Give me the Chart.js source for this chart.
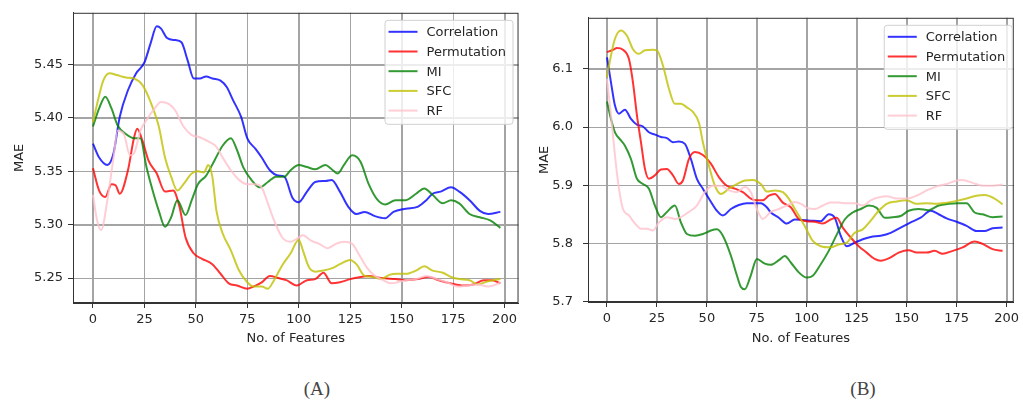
<!DOCTYPE html>
<html>
<head>
<meta charset="utf-8">
<script src="https://cdn.jsdelivr.net/npm/chart.js@4.4.1/dist/chart.umd.min.js"></script>
<style>
    body { margin: 0; background: #fff; width: 1023px; height: 403px; overflow: hidden; position: relative; }
    canvas { position: absolute; top: 0; }
    #chartA { left: 0; }
    #chartB { left: 521px; }
    .caption { position: absolute; top: 378px; width: 60px; text-align: center;
        font-family: "Liberation Serif", "DejaVu Serif", serif; font-size: 19px; color: #444; }
</style>
</head>
<body>
<canvas id="chartA" width="521" height="360"></canvas>
<canvas id="chartB" width="502" height="360"></canvas>
<div class="caption" style="left: 287px;">(A)</div>
<div class="caption" style="left: 833px;">(B)</div>
<script>
// --- Data ---
const methods = ['Correlation', 'Permutation', 'MI', 'SFC', 'RF'];
const colours = ['rgba(0,0,255,0.8)', 'rgba(255,0,0,0.8)', 'rgba(0,128,0,0.8)', 'rgba(191,191,0,0.8)', 'rgba(255,192,203,0.8)'];

const featureTicks = [0, 25, 50, 75, 100, 125, 150, 175, 200];
const maeTicksA = [5.25, 5.30, 5.35, 5.40, 5.45];
const maeTicksB = [5.7, 5.8, 5.9, 6.0, 6.1];

// (A) [no. of features, MAE]
const corrA = [[0,5.376],[3,5.363],[7,5.356],[10,5.367],[13,5.401],[17,5.426],[21,5.442],[25,5.452],[28,5.47],[31,5.486],[33,5.484],[36,5.475],[40,5.473],[43,5.471],[46,5.454],[49,5.437],[52,5.437],[55,5.439],[58,5.437],[62,5.435],[65,5.429],[68,5.417],[72,5.401],[75,5.381],[79,5.371],[82,5.363],[86,5.351],[90,5.346],[93,5.345],[97,5.325],[100,5.321],[104,5.331],[108,5.34],[113,5.341],[116,5.342],[120,5.331],[124,5.317],[128,5.31],[132,5.312],[137,5.308],[142,5.306],[146,5.312],[152,5.315],[158,5.317],[162,5.323],[165,5.329],[169,5.331],[174,5.335],[178,5.331],[183,5.323],[188,5.313],[192,5.31],[198,5.312]];
const permA = [[0,5.353],[3,5.332],[6,5.326],[9,5.338],[11,5.337],[13,5.329],[17,5.351],[20,5.382],[21.5,5.39],[24,5.379],[27,5.36],[31,5.348],[35,5.331],[39,5.332],[42,5.317],[45,5.288],[49,5.273],[53,5.268],[58,5.263],[62,5.254],[66,5.245],[70,5.243],[75,5.24],[78,5.242],[82,5.246],[86,5.252],[90,5.25],[94,5.248],[99,5.243],[104,5.248],[108,5.249],[112,5.255],[116,5.245],[120,5.246],[125,5.249],[130,5.251],[134,5.252],[140,5.25],[147,5.249],[152,5.248],[158,5.249],[163,5.251],[168,5.248],[174,5.245],[180,5.243],[185,5.244],[190,5.248],[194,5.248],[198,5.245]];
const miA = [[0,5.392],[3,5.409],[6,5.42],[9,5.409],[12,5.393],[16,5.385],[20,5.381],[23,5.381],[26,5.354],[29,5.332],[32,5.313],[35,5.298],[38,5.307],[41,5.323],[45,5.309],[48,5.323],[51,5.338],[55,5.346],[59,5.36],[63,5.374],[67,5.381],[70,5.37],[73,5.354],[77,5.342],[81,5.335],[85,5.34],[89,5.345],[93,5.345],[96,5.351],[100,5.356],[104,5.354],[108,5.352],[113,5.356],[116,5.352],[119,5.348],[122,5.356],[126,5.365],[130,5.359],[134,5.338],[138,5.324],[142,5.319],[147,5.323],[152,5.323],[157,5.329],[161,5.334],[165,5.328],[170,5.32],[174,5.323],[178,5.32],[183,5.31],[188,5.307],[193,5.304],[198,5.297]];
const sfcA = [[0,5.396],[2,5.413],[5,5.435],[8,5.442],[12,5.44],[16,5.438],[20,5.437],[24,5.431],[28,5.415],[32,5.392],[35,5.363],[38,5.345],[41,5.332],[44,5.338],[48,5.348],[51,5.35],[54,5.349],[56,5.356],[58,5.345],[60,5.313],[63,5.292],[67,5.276],[71,5.257],[75,5.246],[78,5.242],[82,5.242],[85,5.24],[88,5.248],[92,5.262],[96,5.273],[100,5.286],[102,5.276],[105,5.26],[108,5.256],[112,5.257],[116,5.259],[120,5.263],[125,5.267],[128,5.263],[132,5.252],[136,5.251],[140,5.249],[144,5.253],[148,5.254],[152,5.254],[157,5.257],[161,5.261],[165,5.257],[170,5.255],[174,5.251],[178,5.249],[183,5.248],[187,5.244],[192,5.247],[198,5.249]];
const rfA = [[0,5.328],[2,5.304],[4,5.295],[7,5.323],[10,5.363],[12,5.388],[15,5.385],[18,5.365],[20,5.367],[23,5.388],[26,5.398],[30,5.409],[33,5.415],[37,5.413],[40,5.407],[44,5.392],[48,5.384],[52,5.382],[56,5.378],[60,5.373],[63,5.363],[67,5.351],[71,5.342],[75,5.338],[79,5.338],[82,5.335],[85,5.32],[88,5.304],[92,5.288],[96,5.284],[100,5.288],[102,5.29],[106,5.285],[110,5.282],[114,5.278],[118,5.282],[122,5.284],[126,5.282],[129,5.273],[133,5.26],[137,5.252],[141,5.248],[145,5.245],[148,5.246],[152,5.248],[157,5.249],[162,5.252],[167,5.249],[172,5.246],[177,5.242],[182,5.243],[187,5.244],[192,5.242],[196,5.244],[198,5.246]];

// (B)
const corrB = [[0,6.12],[2,6.077],[4,6.037],[6,6.023],[9,6.03],[12,6.014],[15,6.004],[18,6.001],[21,5.991],[24,5.987],[27,5.983],[30,5.981],[33,5.974],[36,5.975],[39,5.971],[42,5.945],[45,5.911],[48,5.894],[51,5.877],[55,5.856],[58,5.848],[62,5.859],[66,5.866],[70,5.869],[74,5.869],[77,5.869],[80,5.862],[82,5.853],[86,5.844],[90,5.834],[94,5.841],[98,5.84],[102,5.839],[107,5.838],[111,5.85],[114,5.844],[117,5.813],[120,5.795],[124,5.801],[128,5.807],[132,5.811],[137,5.813],[142,5.818],[147,5.827],[152,5.836],[157,5.844],[162,5.856],[166,5.85],[170,5.843],[175,5.837],[180,5.83],[185,5.821],[189,5.821],[193,5.826],[198,5.827]];
const permB = [[0,6.129],[3,6.133],[5,6.136],[8,6.133],[11,6.117],[13,6.077],[15,6.02],[17,5.974],[19,5.928],[21,5.911],[24,5.917],[27,5.927],[30,5.928],[33,5.917],[36,5.902],[38,5.908],[41,5.945],[44,5.957],[48,5.952],[52,5.937],[56,5.914],[60,5.899],[64,5.894],[68,5.888],[72,5.877],[75,5.874],[78,5.874],[81,5.882],[84,5.885],[88,5.87],[92,5.862],[96,5.842],[100,5.838],[104,5.837],[108,5.834],[112,5.841],[115,5.844],[118,5.827],[122,5.81],[126,5.795],[130,5.784],[134,5.773],[137,5.77],[141,5.774],[146,5.784],[151,5.788],[155,5.784],[160,5.784],[164,5.787],[168,5.782],[173,5.787],[178,5.793],[184,5.803],[188,5.799],[193,5.79],[198,5.787]];
const miB = [[0,6.044],[2,6.014],[4,5.991],[7,5.977],[9,5.968],[12,5.945],[15,5.911],[18,5.902],[21,5.894],[24,5.865],[27,5.845],[30,5.854],[34,5.865],[37,5.836],[40,5.816],[44,5.813],[48,5.816],[52,5.822],[55,5.824],[58,5.813],[62,5.779],[65,5.745],[67,5.725],[69,5.721],[72,5.745],[75,5.773],[79,5.765],[82,5.763],[86,5.771],[89,5.778],[92,5.767],[96,5.75],[100,5.741],[103,5.744],[107,5.764],[111,5.787],[115,5.815],[119,5.841],[123,5.853],[127,5.859],[131,5.865],[135,5.861],[139,5.844],[143,5.845],[147,5.847],[151,5.856],[156,5.859],[161,5.857],[166,5.865],[171,5.868],[176,5.869],[180,5.869],[184,5.853],[188,5.85],[193,5.845],[198,5.846]];
const sfcB = [[0,6.086],[2,6.123],[4,6.152],[7,6.166],[10,6.157],[13,6.134],[16,6.126],[19,6.132],[23,6.133],[25,6.132],[28,6.106],[31,6.066],[34,6.04],[37,6.04],[40,6.034],[43,6.026],[46,6.008],[48,5.974],[51,5.934],[54,5.899],[57,5.885],[61,5.894],[65,5.902],[69,5.908],[73,5.909],[77,5.902],[80,5.889],[84,5.891],[88,5.888],[91,5.877],[94,5.859],[96,5.848],[100,5.823],[103,5.804],[107,5.795],[112,5.793],[116,5.798],[120,5.801],[124,5.818],[128,5.824],[132,5.839],[136,5.856],[140,5.868],[145,5.872],[150,5.874],[155,5.868],[160,5.869],[165,5.868],[170,5.87],[175,5.873],[180,5.877],[185,5.882],[189,5.883],[194,5.877],[198,5.867]];
const rfB = [[0,6.083],[2,6.02],[4,5.951],[6,5.894],[8,5.859],[11,5.848],[14,5.834],[17,5.825],[20,5.825],[23,5.822],[26,5.836],[30,5.845],[34,5.842],[37,5.845],[41,5.854],[45,5.865],[49,5.888],[53,5.899],[57,5.899],[61,5.891],[65,5.888],[69,5.897],[72,5.888],[75,5.859],[78,5.842],[82,5.854],[86,5.859],[90,5.865],[94,5.871],[98,5.866],[100,5.861],[104,5.859],[108,5.865],[112,5.87],[116,5.87],[120,5.869],[124,5.869],[128,5.865],[132,5.874],[136,5.879],[140,5.881],[145,5.877],[150,5.877],[155,5.882],[160,5.891],[165,5.898],[170,5.902],[175,5.908],[178,5.909],[183,5.904],[188,5.899],[193,5.899],[198,5.901]];

// --- Plugins ---

// Grid lines at every tick (drawn under the series)
const gridPlugin = {
    id: 'tickGrid',
    beforeDatasetsDraw(chart) {
        const { ctx, chartArea: a, scales } = chart;
        ctx.save();
        ctx.strokeStyle = '#a4a4a4';
        ctx.lineWidth = 1;
        ctx.beginPath();
        scales.x.ticks.forEach(t => {
            const px = Math.round(scales.x.getPixelForValue(t.value)) + 0.5;
            ctx.moveTo(px, a.top);
            ctx.lineTo(px, a.bottom);
        });
        scales.y.ticks.forEach(t => {
            const py = Math.round(scales.y.getPixelForValue(t.value)) + 0.5;
            ctx.moveTo(a.left, py);
            ctx.lineTo(a.right, py);
        });
        ctx.stroke();
        ctx.restore();
    }
};

// Box around the plot area (matplotlib spines)
const framePlugin = {
    id: 'frame',
    afterDatasetsDraw(chart) {
        const { ctx, chartArea: a } = chart;
        ctx.save();
        ctx.strokeStyle = '#333';
        ctx.lineWidth = 1;
        ctx.strokeRect(a.left + 0.5, a.top + 0.5, a.right - a.left - 1, a.bottom - a.top - 1);
        ctx.restore();
    }
};

// Legend drawn inside the upper right corner of the plot
const boxLegendPlugin = {
    id: 'boxLegend',
    afterDraw(chart, args, opts) {
        const { ctx, chartArea: a } = chart;
        const w = 128, h = 104;
        const x = a.right - opts.right - w, y = a.top + opts.top;
        ctx.save();
        ctx.beginPath();
        ctx.roundRect(x + 0.5, y + 0.5, w, h, 3);
        ctx.fillStyle = 'rgba(255,255,255,0.8)';
        ctx.fill();
        ctx.strokeStyle = '#d0d0d0';
        ctx.lineWidth = 1;
        ctx.stroke();
        ctx.font = '13px "DejaVu Sans"';
        ctx.textBaseline = 'middle';
        chart.data.datasets.forEach((ds, i) => {
            const cy = y + 12 + i * 19.7;
            ctx.strokeStyle = ds.borderColor;
            ctx.lineWidth = 2;
            ctx.beginPath();
            ctx.moveTo(x + 4, cy);
            ctx.lineTo(x + 33, cy);
            ctx.stroke();
            ctx.fillStyle = '#262626';
            ctx.fillText(ds.label, x + 42, cy + 1);
        });
        ctx.restore();
    }
};

// --- Chart setup ---
const tickFont = { family: 'DejaVu Sans', size: 13 };
const gridStyle = { color: '#a4a4a4', lineWidth: 1, drawOnChartArea: true, tickColor: '#333', tickLength: 5 };

function makeChart(id, series, cfg) {
    const datasets = series.map((pts, i) => ({
        label: methods[i],
        data: pts.map(p => ({ x: p[0], y: p[1] })),
        borderColor: colours[i],
        borderWidth: 2,
        pointRadius: 0,
        fill: false,
        cubicInterpolationMode: 'monotone',
        order: series.length - i
    }));

    return new Chart(document.getElementById(id), {
        type: 'line',
        data: { datasets },
        plugins: [gridPlugin, framePlugin, boxLegendPlugin],
        options: {
            responsive: false,
            animation: false,
            layout: { padding: { top: cfg.top, right: cfg.right, left: 0, bottom: 0 } },
            scales: {
                x: {
                    type: 'linear',
                    min: cfg.xMin,
                    max: cfg.xMax,
                    afterBuildTicks: s => { s.ticks = featureTicks.map(v => ({ value: v })); },
                    afterFit: s => { s.height = cfg.xHeight; },
                    grid: gridStyle,
                    border: { color: '#333' },
                    ticks: { font: tickFont, color: '#262626', padding: 4, maxRotation: 0, autoSkip: false },
                    title: { display: true, text: 'No. of Features', font: tickFont, color: '#262626', padding: { top: 14, bottom: 14 } }
                },
                y: {
                    type: 'linear',
                    min: cfg.yMin,
                    max: cfg.yMax,
                    afterBuildTicks: s => { s.ticks = cfg.yTicks.map(v => ({ value: v })); },
                    afterFit: s => { s.width = cfg.yWidth; },
                    grid: gridStyle,
                    border: { color: '#333' },
                    ticks: { font: tickFont, color: '#262626', padding: cfg.yPad, callback: v => v.toFixed(cfg.digits) },
                    title: { display: true, text: 'MAE', font: tickFont, color: '#262626', padding: { top: cfg.titlePad, bottom: cfg.titlePad } }
                }
            },
            plugins: {
                legend: { display: false },
                tooltip: { enabled: false },
                boxLegend: cfg.legend
            }
        }
    });
}

const chartA = makeChart('chartA', [corrA, permA, miA, sfcA, rfA], {
    top: 12, right: 2, xHeight: 57, yWidth: 73, yPad: 5, titlePad: 12,
    xMin: -9.7, xMax: 206.8, yMin: 5.2266, yMax: 5.4986, yTicks: maeTicksA, digits: 2,
    legend: { right: 6, top: 7 }
});

const chartB = makeChart('chartB', [corrB, permB, miB, sfcB, rfB], {
    top: 17, right: 1, xHeight: 58, yWidth: 67, yPad: 10, titlePad: 16,
    xMin: -9.5, xMax: 203.6, yMin: 5.699, yMax: 6.188, yTicks: maeTicksB, digits: 1,
    legend: { right: 2, top: 7 }
});
</script>
</body>
</html>
